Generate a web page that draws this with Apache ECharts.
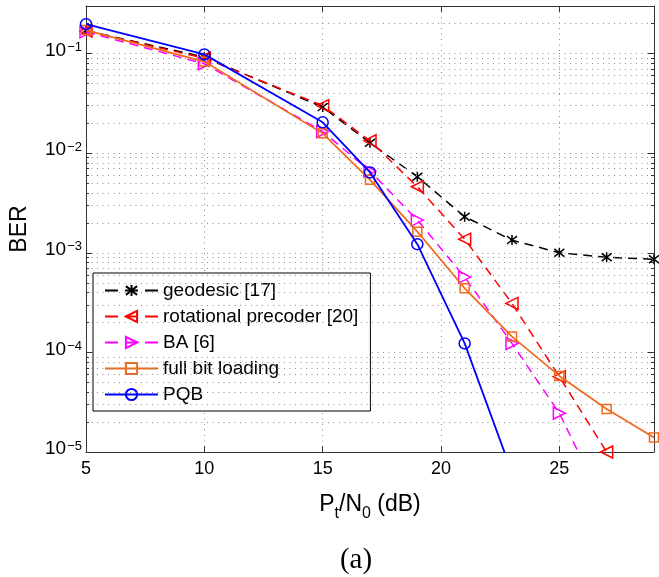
<!DOCTYPE html>
<html>
<head>
<meta charset="utf-8">
<script src="https://cdn.jsdelivr.net/npm/echarts@6/dist/echarts.min.js"></script>
<style>
  html, body { margin: 0; padding: 0; background: #fff; }
  #chart { width: 659px; height: 577px; }
</style>
</head>
<body>
<div id="chart"></div>
<script>
// Transmit SNR values (dB)
const snr = [5, 10, 15, 17, 19, 21, 23, 25, 27, 29];

// Bit error rate per scheme
const geodesic   = [0.170, 0.092, 0.029, 0.0127, 0.0058, 0.0023, 0.00134, 0.00100, 0.00090, 0.00086];
const rotational = [0.168, 0.090, 0.030, 0.0133, 0.0046, 0.00137, 0.00031, 0.000057, 0.0000100, null];
const baScheme   = [0.165, 0.079, 0.0165, 0.0066, 0.00213, 0.00057, 0.000123, 0.0000245, 0.0000026, null];
const fullBit    = [0.172, 0.083, 0.0158, 0.0054, 0.00163, 0.00044, 0.000144, 0.000058, 0.000027, 0.000014];
const pqb        = [0.197, 0.098, 0.0204, 0.0064, 0.00122, 0.000123, 0.0000062, null, null, null];

const seriesNames = ['geodesic [17]', 'rotational precoder [20]', 'BA [6]', 'full bit loading', 'PQB'];

// Axis ranges
const xMin = 5, xMax = 29, xStep = 5;
const yMin = 1e-5, yMax = 0.3;

const FONT = 'Liberation Sans, Arial, Helvetica, sans-serif';

const pair = (xs, ys) => xs.map((x, i) => [x, ys[i]]);

// Dotted minor grid lines and short minor ticks at 2..9 x 10^k
const minorVals = [];
for (let k = -5; k <= -1; k++) {
  for (let m = 2; m <= 9; m++) {
    const v = m * Math.pow(10, k);
    if (v < yMax - 1e-12) minorVals.push(v);
  }
}
const tickLen = 3 / 23.7; // ~3 px in dB units
const gridStyle = { color: '#8c8c8c', width: 1, type: [1, 4.5] };
const markData = [];
minorVals.forEach(v => {
  markData.push([{ coord: [xMin, v], lineStyle: gridStyle }, { coord: [xMax, v] }]);
  markData.push([{ coord: [xMin, v], lineStyle: { color: '#333', width: 1, type: 'solid' } }, { coord: [xMin + tickLen, v] }]);
  markData.push([{ coord: [xMax - tickLen, v], lineStyle: { color: '#333', width: 1, type: 'solid' } }, { coord: [xMax, v] }]);
});

const dash = [9, 6];
const hollow = c => ({ color: 'rgba(0,0,0,0)', borderColor: c, borderWidth: 1.5 });

const sym = {
  star: 'path://M-7,-7L7,7M-7,7L7,-7M0,-9L0,9',
  left: 'path://M-10,0L10,-10L10,10Z',
  right: 'path://M10,0L-10,-10L-10,10Z'
};

const chart = echarts.init(document.getElementById('chart'), null, { renderer: 'canvas' });

const yLabel = v => {
  const lg = Math.log10(v);
  const e = Math.round(lg);
  if (Math.abs(lg - e) > 1e-6) return '';
  return '{b|10}{s|' + (e < 0 ? '\u2212' : '') + Math.abs(e) + '}';
};

const axisLineStyle = { lineStyle: { color: '#333', width: 1 } };
const tickInside = { show: true, inside: true, length: 6, lineStyle: { color: '#333' } };

chart.setOption({
  animation: false,
  backgroundColor: '#fff',
  grid: { left: 85, right: 5, top: 6, bottom: 125 },
  xAxis: [
    {
      type: 'value', min: xMin, max: xMax, interval: xStep,
      axisLine: axisLineStyle,
      axisTick: tickInside,
      splitLine: { show: true, lineStyle: gridStyle },
      axisLabel: { fontSize: 18, fontFamily: FONT, color: '#000', margin: 8, showMaxLabel: false },
      name: '{m|P}{s|t}{m|/N}{s|0}{m| (dB)}',
      nameLocation: 'middle',
      nameGap: 41,
      nameTextStyle: {
        rich: {
          m: { fontSize: 23, fontFamily: FONT, color: '#000', lineHeight: 23, verticalAlign: 'top' },
          s: { fontSize: 16, fontFamily: FONT, color: '#000', lineHeight: 16, padding: [13, 0, 0, 0], verticalAlign: 'top' }
        }
      }
    },
    {
      type: 'value', min: xMin, max: xMax, interval: xStep, position: 'top',
      axisLine: axisLineStyle, axisTick: tickInside,
      axisLabel: { show: false }, splitLine: { show: false }
    }
  ],
  yAxis: [
    {
      type: 'log', logBase: 10, min: yMin, max: yMax,
      axisLine: axisLineStyle,
      axisTick: tickInside,
      splitLine: { show: true, lineStyle: gridStyle },
      axisLabel: {
        formatter: yLabel, margin: 4, padding: [0, 0, 6, 0],
        rich: {
          b: { fontSize: 19, fontFamily: FONT, color: '#000', lineHeight: 19, verticalAlign: 'bottom' },
          s: { fontSize: 13, fontFamily: FONT, color: '#000', lineHeight: 13, padding: [0, 0, 13, 1], verticalAlign: 'top' }
        }
      },
      name: 'BER',
      nameLocation: 'middle',
      nameRotate: 90,
      nameGap: 55,
      nameTextStyle: { fontSize: 23, fontFamily: FONT, color: '#000' }
    },
    {
      type: 'log', logBase: 10, min: yMin, max: yMax, position: 'right',
      axisLine: axisLineStyle, axisTick: tickInside,
      axisLabel: { show: false }, splitLine: { show: false }
    }
  ],
  legend: {
    orient: 'vertical',
    left: 93, top: 273,
    padding: [8, 12, 7, 11],
    itemGap: 7,
    itemWidth: 53,
    itemHeight: 14,
    backgroundColor: '#fff',
    borderColor: '#000',
    borderWidth: 1,
    borderRadius: 0,
    selectedMode: false,
    textStyle: { fontSize: 19, fontFamily: FONT, color: '#000' },
    data: [
      { name: seriesNames[0], lineStyle: { type: [13, 7] } },
      { name: seriesNames[1], lineStyle: { type: [13, 7] } },
      { name: seriesNames[2], lineStyle: { type: [13, 7] } },
      { name: seriesNames[3] },
      { name: seriesNames[4] }
    ]
  },
  series: [
    {
      name: 'grid', type: 'line', data: [], silent: true,
      markLine: { silent: true, symbol: 'none', animation: false, label: { show: false }, data: markData }
    },
    {
      name: seriesNames[0], type: 'line', data: pair(snr, geodesic),
      symbol: sym.star, symbolSize: 10,
      lineStyle: { color: '#000', width: 1.5, type: dash },
      itemStyle: hollow('#000'), z: 3
    },
    {
      name: seriesNames[1], type: 'line', data: pair(snr, rotational),
      symbol: sym.left, symbolSize: 12,
      lineStyle: { color: '#ff0000', width: 1.5, type: dash },
      itemStyle: hollow('#ff0000'), z: 4
    },
    {
      name: seriesNames[2], type: 'line', data: pair(snr, baScheme),
      symbol: sym.right, symbolSize: 12,
      lineStyle: { color: '#ff00ff', width: 1.5, type: dash },
      itemStyle: hollow('#ff00ff'), z: 5
    },
    {
      name: seriesNames[3], type: 'line', data: pair(snr, fullBit),
      symbol: 'rect', symbolSize: 9,
      lineStyle: { color: '#f06a1c', width: 1.7 },
      itemStyle: hollow('#f06a1c'), z: 6
    },
    {
      name: seriesNames[4], type: 'line', data: pair(snr, pqb),
      symbol: 'circle', symbolSize: 11,
      lineStyle: { color: '#0000ff', width: 1.8 },
      itemStyle: hollow('#0000ff'), z: 7
    }
  ],
  graphic: [
    {
      type: 'text',
      style: { text: '(a)', x: 356, y: 560, align: 'center', verticalAlign: 'middle', fontSize: 29, fontFamily: 'Liberation Serif, DejaVu Serif, serif', fill: '#000' }
    }
  ]
});
</script>
</body>
</html>
